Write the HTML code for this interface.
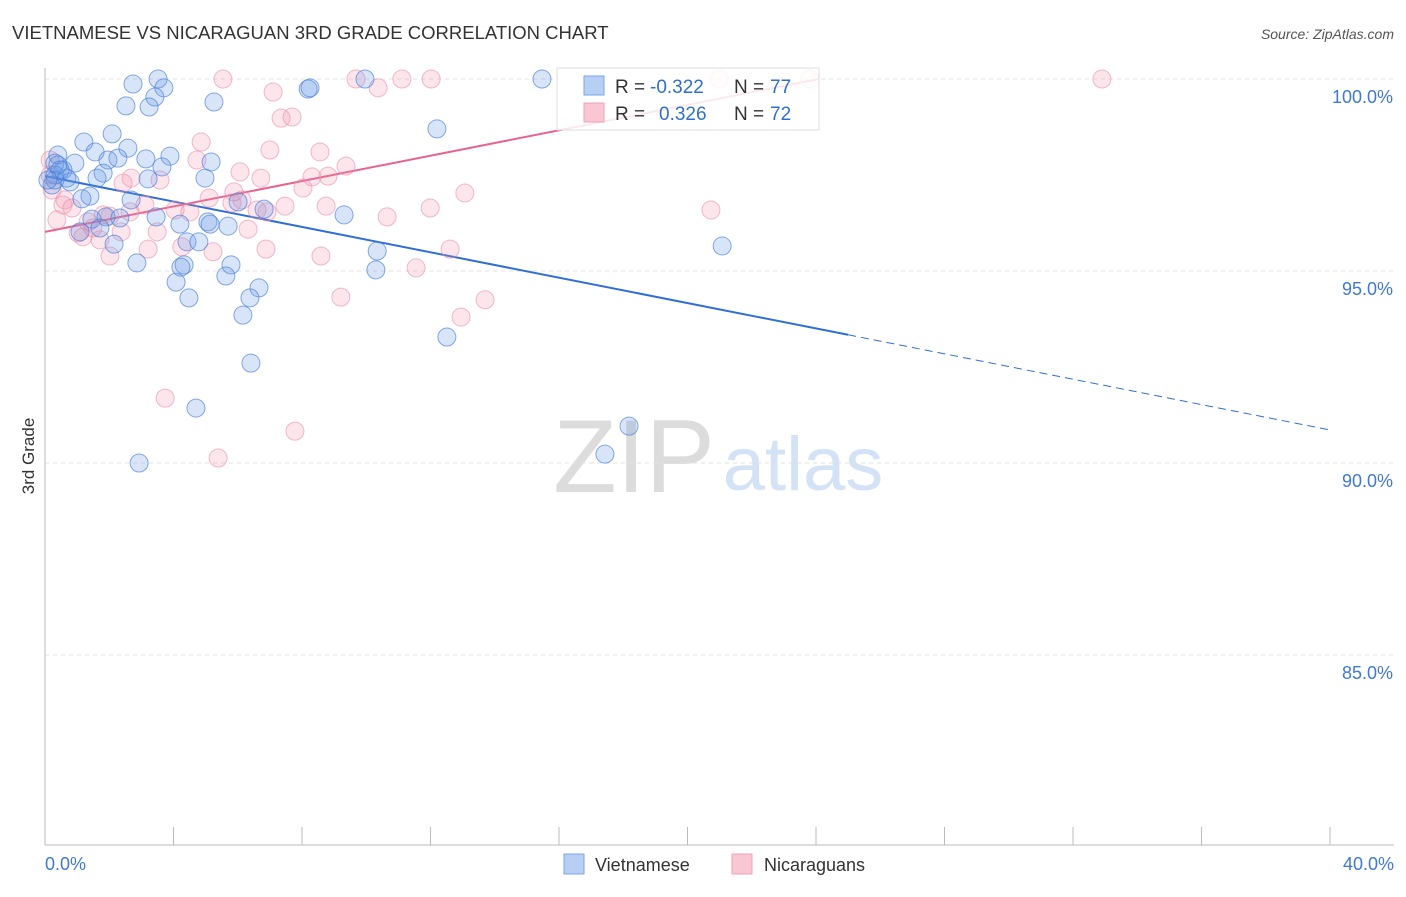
<!DOCTYPE html>
<html><head><meta charset="utf-8"><style>
body{margin:0;background:#fff;font-family:"Liberation Sans",sans-serif;}
svg text{font-family:"Liberation Sans",sans-serif;}
</style></head><body>
<svg id="chart" width="1406" height="892">
<text x="12" y="39" font-size="18.5" fill="#333">VIETNAMESE VS NICARAGUAN 3RD GRADE CORRELATION CHART</text>
<text x="1394" y="39" font-size="14" fill="#555" text-anchor="end" font-style="italic">Source: ZipAtlas.com</text>
<text x="34" y="456" font-size="17" fill="#333" transform="rotate(-90 34 456)" text-anchor="middle">3rd Grade</text>
<g><text x="634" y="492" font-size="104" fill="#dcdcdc" font-family="Liberation Serif" text-anchor="middle">ZIP</text><text x="803" y="490" font-size="76" fill="#d4e2f5" text-anchor="middle">atlas</text></g>
<g id="grid"></g><g id="axes"></g><g id="trend"></g><g id="pts"></g>
<g>
<rect x="557" y="68" width="262" height="62" fill="rgba(255,255,255,0.85)" stroke="#ddd"/>
<rect x="584" y="76" width="20" height="19" fill="#b7cff3" stroke="#7aa4e6"/>
<rect x="584" y="103" width="20" height="19" fill="#f9c6d4" stroke="#f0a0b8"/>
<text x="615" y="93" font-size="19" fill="#333">R =</text>
<text x="650" y="93" font-size="19" fill="#2f6fd0">-0.322</text>
<text x="734" y="93" font-size="19" fill="#333">N =</text>
<text x="770" y="93" font-size="19" fill="#2f6fd0">77</text>
<text x="615" y="120" font-size="19" fill="#333">R =</text>
<text x="659" y="120" font-size="19" fill="#2f6fd0">0.326</text>
<text x="734" y="120" font-size="19" fill="#333">N =</text>
<text x="770" y="120" font-size="19" fill="#2f6fd0">72</text>
</g>
<g>
<rect x="564" y="854" width="20" height="20" fill="#b7cff3" stroke="#7aa4e6"/>
<text x="595" y="871" font-size="18" fill="#333">Vietnamese</text>
<rect x="732" y="854" width="20" height="20" fill="#f9c6d4" stroke="#f0a0b8"/>
<text x="764" y="871" font-size="18" fill="#333">Nicaraguans</text>
</g>
</svg>
<script>
const yTicks=[100,95,90,85];
const yTickLabels=["100.0%","95.0%","90.0%","85.0%"];
const xTickLabels=["0.0%","40.0%"];
const blueX=[2.74,3.52,3.70,3.42,2.52,3.24,5.26,8.19,8.25,9.96,15.47,12.20,2.09,1.21,1.56,0.40,2.58,3.89,1.96,2.27,3.14,5.17,3.64,0.93,0.31,0.56,1.81,1.62,3.21,4.98,0.78,0.22,0.31,1.40,1.15,2.68,6.01,6.82,9.31,3.46,2.33,1.46,1.90,1.09,1.71,4.20,5.07,5.14,5.70,2.15,4.42,4.79,10.34,21.08,2.86,4.33,4.23,5.79,10.30,4.08,5.63,6.66,6.38,4.48,6.16,12.51,6.41,4.70,18.18,2.93,17.43,0.31,0.47,0.68,0.09,0.40];
const blueY=[99.87,100,99.77,99.53,99.30,99.27,99.40,99.74,99.77,100,100,98.70,98.57,98.36,98.10,98.02,98.20,97.99,97.89,97.94,97.92,97.84,97.71,97.81,97.81,97.63,97.55,97.42,97.40,97.42,97.32,97.24,97.50,96.95,96.88,96.85,96.80,96.61,96.46,96.41,96.38,96.35,96.41,96.02,96.12,96.22,96.28,96.22,96.17,95.70,95.76,95.76,95.52,95.65,95.21,95.16,95.10,95.16,95.03,94.71,94.87,94.56,94.30,94.30,93.85,93.28,92.60,91.43,90.96,90.00,90.23,97.37,97.63,97.42,97.37,97.76];
const pinkX=[5.54,9.68,11.11,12.02,10.37,7.10,20.98,23.81,32.90,7.35,7.69,4.86,7.00,8.56,9.37,4.73,6.07,6.72,2.68,3.58,2.43,8.03,8.31,13.07,5.11,5.88,6.13,5.82,6.60,7.47,8.75,10.65,11.99,20.73,4.51,4.05,0.56,0.84,0.37,1.81,2.02,1.49,1.18,2.37,3.49,3.21,4.26,5.23,6.32,6.88,2.02,1.03,12.61,8.59,11.55,9.21,13.70,12.95,3.74,7.78,5.39,0.16,0.16,0.22,0.62,1.71,1.34,2.65,6.91,8.81,3.11];
const pinkY=[100,100,100,100,99.77,99.66,100,100,100,98.98,99.01,98.36,98.15,98.10,97.73,97.89,97.58,97.42,97.42,97.37,97.29,97.16,97.45,97.03,96.90,97.06,96.85,96.77,96.59,96.69,96.69,96.41,96.64,96.59,96.54,96.59,96.72,96.64,96.33,96.46,96.43,96.12,95.89,96.02,96.02,95.57,95.63,95.50,96.09,95.57,95.39,95.99,95.57,95.39,95.08,94.32,94.25,93.80,91.69,90.83,90.13,97.89,97.50,97.11,96.85,95.81,96.28,96.54,96.54,97.47,96.72];
const blueTrend=[97.47,90.86];
const pinkTrend=[96.02,102.63];
const NS="http://www.w3.org/2000/svg";
const X0=45,X1=1330,Y100=79,PX5=192;
const sx=v=>X0+(v/40)*(X1-X0);
const sy=v=>Y100+(100-v)/5*PX5;
function mk(tag,attrs,parent){const e=document.createElementNS(NS,tag);for(const k in attrs)e.setAttribute(k,attrs[k]);document.getElementById(parent).appendChild(e);return e;}
yTicks.forEach((t,i)=>{
  const l=mk('line',{x1:X0,x2:1394,y1:sy(t),y2:sy(t),stroke:'#e2e2e2','stroke-dasharray':'4,4'},'grid');
  
  
  const tx=mk('text',{x:1393,y:sy(t)+24,'font-size':18,fill:'#3f78d6','text-anchor':'end'},'grid');
  tx.textContent=yTickLabels[i];
  
  
});
const ya=mk('line',{x1:X0,x2:X0,y1:68,y2:845,stroke:'#bbb'},'axes');


const xa=mk('line',{x1:X0,x2:1394,y1:845,y2:845,stroke:'#bbb'},'axes');


for(let i=0;i<=10;i++){
  const t=mk('line',{x1:sx(i*4),x2:sx(i*4),y1:827,y2:845,stroke:'#bbb'},'axes');
  
  
}
[[0,'start',45],[40,'end',1394]].forEach((d,i)=>{
  const tx=mk('text',{x:d[2],y:870,'font-size':18,fill:'#3f78d6','text-anchor':d[1]},'axes');
  tx.textContent=xTickLabels[i];
  
  
});
function pts(xs,ys,fill,stroke,name){
  xs.forEach((x,i)=>{
    const c=mk('circle',{cx:sx(x),cy:sy(ys[i]),r:9,fill:fill,stroke:stroke,'stroke-width':1},'pts');
    
    
  });
}
pts(pinkX,pinkY,'rgba(240,140,170,0.22)','rgba(235,140,170,0.6)','nicaraguan-point');
pts(blueX,blueY,'rgba(100,150,230,0.25)','rgba(70,125,215,0.65)','vietnamese-point');
const bAt=x=>blueTrend[0]+(blueTrend[1]-blueTrend[0])*x/40;
const pAt=x=>pinkTrend[0]+(pinkTrend[1]-pinkTrend[0])*x/40;
const b1=mk('line',{x1:sx(0),y1:sy(bAt(0)),x2:sx(25),y2:sy(bAt(25)),stroke:'#2f6fd6','stroke-width':2},'trend');


const b2=mk('line',{x1:sx(25),y1:sy(bAt(25)),x2:sx(40),y2:sy(bAt(40)),stroke:'#2f6fd6','stroke-width':1,'stroke-dasharray':'8,5'},'trend');


const xEnd=40*(100-pinkTrend[0])/(pinkTrend[1]-pinkTrend[0]);
const p1=mk('line',{x1:sx(0),y1:sy(pAt(0)),x2:sx(xEnd),y2:sy(pAt(xEnd)),stroke:'#e8638e','stroke-width':2},'trend');


</script>
</body></html>
